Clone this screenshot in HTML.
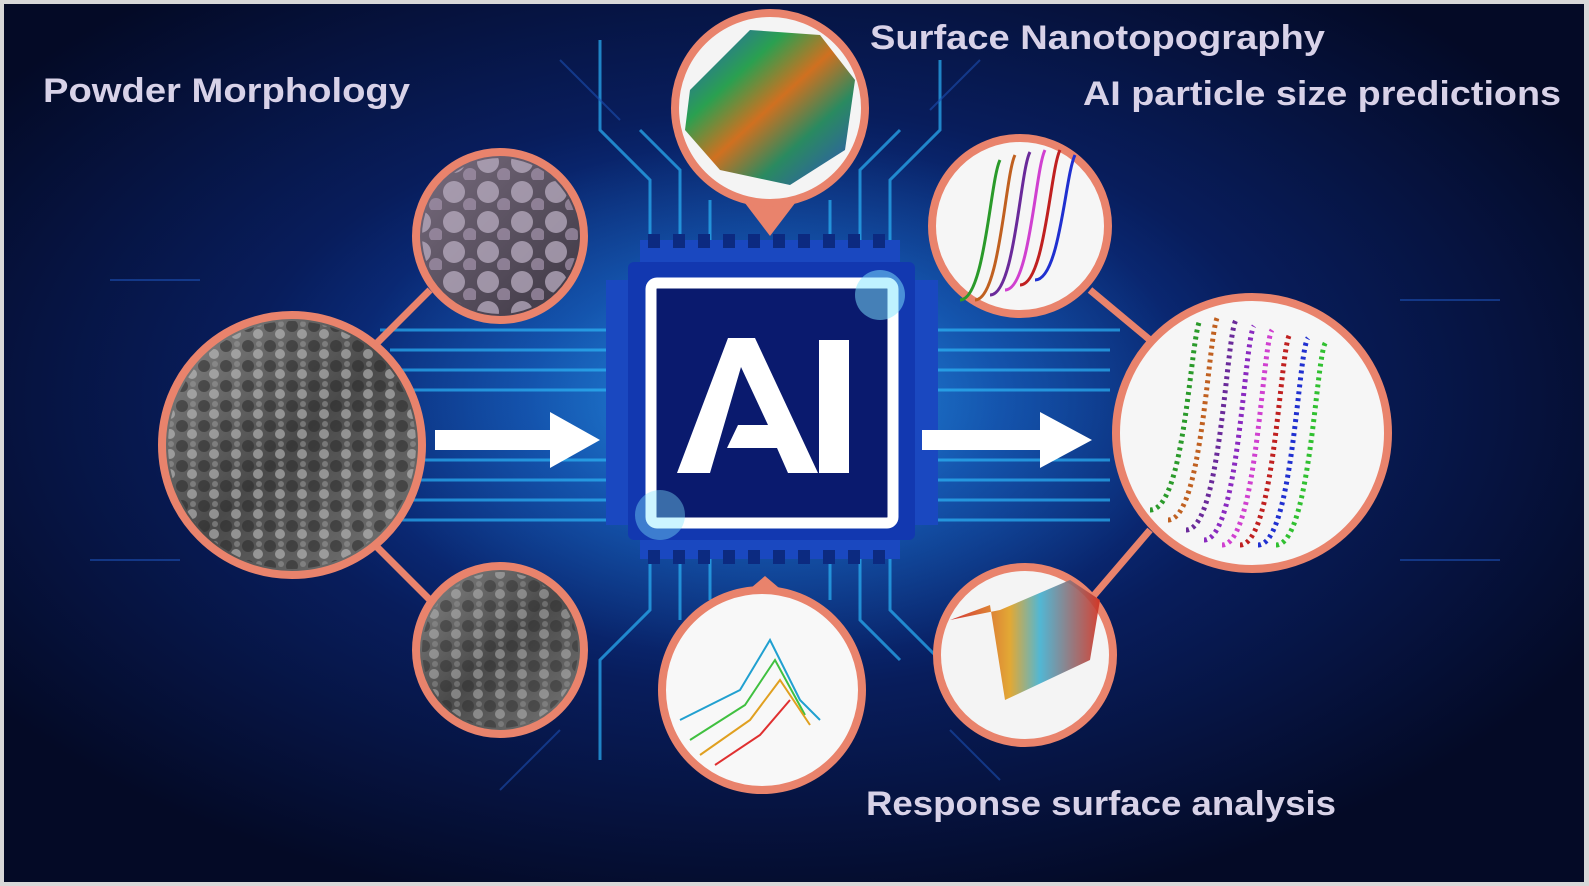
<!DOCTYPE html>
<html><head><meta charset="utf-8"><style>
html,body{margin:0;padding:0;background:#fff}
svg{display:block}
text{font-family:"Liberation Sans",sans-serif;font-weight:bold}
</style></head><body>
<svg width="1589" height="886" viewBox="0 0 1589 886" xmlns="http://www.w3.org/2000/svg">
<defs>
<radialGradient id="bg" cx="0.48" cy="0.45" r="0.6">
<stop offset="0" stop-color="#1a6fd6"/>
<stop offset="0.25" stop-color="#0d3d9e"/>
<stop offset="0.55" stop-color="#081d5c"/>
<stop offset="1" stop-color="#040a26"/>
</radialGradient>
<radialGradient id="glow" cx="0.5" cy="0.5" r="0.5">
<stop offset="0" stop-color="#3ad0ff" stop-opacity="0.7"/>
<stop offset="1" stop-color="#3ad0ff" stop-opacity="0"/>
</radialGradient>
<linearGradient id="sem" x1="0" y1="0" x2="1" y2="1">
<stop offset="0" stop-color="#8a8a8a"/><stop offset="0.5" stop-color="#4a4a4a"/><stop offset="1" stop-color="#7a7a7a"/>
</linearGradient>
<linearGradient id="sem2" x1="0" y1="0" x2="1" y2="1">
<stop offset="0" stop-color="#7a6e80"/><stop offset="1" stop-color="#3a3440"/>
</linearGradient>
<linearGradient id="topo" x1="0" y1="0" x2="1" y2="1">
<stop offset="0" stop-color="#2a58c8"/><stop offset="0.3" stop-color="#2aa050"/><stop offset="0.5" stop-color="#d07020"/><stop offset="0.7" stop-color="#2a8a60"/><stop offset="1" stop-color="#3050c0"/>
</linearGradient>
<linearGradient id="rs" x1="0" y1="0" x2="1" y2="0">
<stop offset="0" stop-color="#d02020"/><stop offset="0.4" stop-color="#e0a020"/><stop offset="0.6" stop-color="#40b0d0"/><stop offset="1" stop-color="#d03020"/>
</linearGradient>
<pattern id="dots" width="22" height="20" patternUnits="userSpaceOnUse">
<circle cx="6" cy="6" r="6" fill="#2a2a2a"/><circle cx="16" cy="14" r="5" fill="#c8c8c8"/><circle cx="17" cy="4" r="3" fill="#999"/>
</pattern>
<pattern id="balls" width="34" height="30" patternUnits="userSpaceOnUse">
<circle cx="12" cy="12" r="11" fill="#b8acc0"/><circle cx="28" cy="25" r="7" fill="#a090a8"/>
</pattern>
</defs>
<rect width="1589" height="886" fill="#d8d8d8"/>
<rect x="4" y="4" width="1580" height="878" fill="url(#bg)"/>
<g stroke="#28a8ee" stroke-width="3" fill="none" opacity="0.75">
<path d="M380 330 H620 M390 350 H620 M390 370 H620 M400 390 H620 M420 460 H620 M410 480 H620 M400 500 H620 M390 520 H620"/>
<path d="M920 330 H1120 M920 350 H1110 M920 370 H1110 M920 390 H1110 M920 460 H1110 M920 480 H1110 M920 500 H1110 M920 520 H1110"/>
<path d="M650 250 V180 L600 130 V40 M680 250 V170 L640 130 M710 250 V200 M830 250 V200 M860 250 V170 L900 130 M890 250 V180 L940 130 V60"/>
<path d="M650 545 V610 L600 660 V760 M680 545 V620 M710 545 V600 M830 545 V600 M860 545 V620 L900 660 M890 545 V610 L940 660"/>
</g>
<g stroke="#1c4fb0" stroke-width="2" fill="none" opacity="0.6">
<path d="M560 60 L620 120 M980 60 L930 110 M110 280 H200 M1400 300 H1500 M1400 560 H1500 M90 560 H180 M500 790 L560 730 M1000 780 L950 730"/>
</g>
<ellipse cx="770" cy="400" rx="420" ry="260" fill="url(#glow)" opacity="0.5"/>
<g stroke="#e9836c" stroke-width="7">
<line x1="370" y1="350" x2="430" y2="290"/>
<line x1="370" y1="540" x2="430" y2="600"/>
<line x1="1090" y1="290" x2="1150" y2="340"/>
<line x1="1090" y1="600" x2="1150" y2="530"/>
</g>
<g fill="#1a48c0">
<rect x="640" y="240" width="260" height="24"/>
<rect x="640" y="535" width="260" height="24"/>
<rect x="606" y="280" width="26" height="245"/>
<rect x="912" y="280" width="26" height="245"/>
</g>
<g fill="#0c2a80">
<rect x="648" y="234" width="12" height="14"/><rect x="673" y="234" width="12" height="14"/><rect x="698" y="234" width="12" height="14"/><rect x="723" y="234" width="12" height="14"/><rect x="748" y="234" width="12" height="14"/><rect x="773" y="234" width="12" height="14"/><rect x="798" y="234" width="12" height="14"/><rect x="823" y="234" width="12" height="14"/><rect x="848" y="234" width="12" height="14"/><rect x="873" y="234" width="12" height="14"/>
<rect x="648" y="550" width="12" height="14"/><rect x="673" y="550" width="12" height="14"/><rect x="698" y="550" width="12" height="14"/><rect x="723" y="550" width="12" height="14"/><rect x="748" y="550" width="12" height="14"/><rect x="773" y="550" width="12" height="14"/><rect x="798" y="550" width="12" height="14"/><rect x="823" y="550" width="12" height="14"/><rect x="848" y="550" width="12" height="14"/><rect x="873" y="550" width="12" height="14"/>
</g>
<rect x="628" y="262" width="287" height="278" rx="6" fill="#1238b0"/>
<rect x="651" y="283" width="242" height="240" rx="6" fill="#0a1a6e" stroke="#ffffff" stroke-width="11"/>
<circle cx="880" cy="295" r="25" fill="#7fe6ff" opacity="0.5"/>
<circle cx="660" cy="515" r="25" fill="#7fe6ff" opacity="0.4"/>
<path d="M728 338 H755 L818 473 H788 L777 448 H727 L738 425 H768 L741 367 L710 473 H677 Z" fill="#fff"/>
<rect x="819" y="340" width="30" height="133" fill="#fff"/>
<path d="M435 430 H550 V412 L600 440 L550 468 V450 H435 Z" fill="#fff"/>
<path d="M922 430 H1040 V412 L1092 440 L1040 468 V450 H922 Z" fill="#fff"/>
<path d="M735 190 L770 236 L805 190 Z" fill="#e9836c"/>
<path d="M725 610 L765 576 L805 610 Z" fill="#e9836c"/>
<g stroke="#e9836c" stroke-width="8">
<circle cx="500" cy="236" r="84" fill="url(#sem2)"/>
<circle cx="292" cy="445" r="130" fill="url(#sem)"/>
<circle cx="500" cy="650" r="84" fill="url(#sem)"/>
<circle cx="770" cy="108" r="95" fill="#f4f4f4"/>
<circle cx="762" cy="690" r="100" fill="#f8f8f8"/>
<circle cx="1020" cy="226" r="88" fill="#f6f6f6"/>
<circle cx="1252" cy="433" r="136" fill="#f6f6f6"/>
<circle cx="1025" cy="655" r="88" fill="#f4f4f4"/>
</g>
<circle cx="500" cy="236" r="78" fill="url(#balls)" opacity="0.75"/>
<circle cx="292" cy="445" r="124" fill="url(#dots)" opacity="0.55"/>
<circle cx="500" cy="650" r="78" fill="url(#dots)" opacity="0.45"/>
<path d="M690 90 L750 30 L820 35 L855 80 L845 150 L790 185 L720 170 L685 130 Z" fill="url(#topo)"/>
<g fill="none" stroke-width="3">
<path d="M960 300 C985 300 990 180 1000 160" stroke="#2a9a2a"/>
<path d="M975 300 C1000 300 1005 175 1015 155" stroke="#c06020"/>
<path d="M990 295 C1015 295 1020 170 1030 152" stroke="#6a2a9a"/>
<path d="M1005 290 C1030 290 1035 170 1045 150" stroke="#d040d0"/>
<path d="M1020 285 C1045 285 1050 170 1060 150" stroke="#c02020"/>
<path d="M1035 280 C1060 280 1065 175 1075 155" stroke="#2030d0"/>
</g>
<g fill="none" stroke-width="5" stroke-dasharray="3 4">
<path d="M1150 510 C1185 510 1190 340 1200 320" stroke="#2a9a2a"/>
<path d="M1168 520 C1203 520 1208 330 1218 316" stroke="#c06020"/>
<path d="M1186 530 C1221 530 1226 335 1236 320" stroke="#6a2a9a"/>
<path d="M1204 540 C1239 540 1244 340 1254 326" stroke="#8a2ac0"/>
<path d="M1222 545 C1257 545 1262 345 1272 330" stroke="#d040d0"/>
<path d="M1240 545 C1275 545 1280 345 1290 334" stroke="#c02020"/>
<path d="M1258 545 C1293 545 1298 350 1308 338" stroke="#2030d0"/>
<path d="M1276 545 C1311 545 1316 350 1326 342" stroke="#30c030"/>
</g>
<path d="M950 620 L990 605 L1005 700 L1090 660 L1100 600 L1070 580 L1000 610 Z" fill="url(#rs)" opacity="0.9"/>
<g fill="none" stroke-width="2">
<path d="M680 720 L740 690 L770 640 L800 700 L820 720" stroke="#20a0d0"/>
<path d="M690 740 L745 705 L775 660 L805 715" stroke="#40c040"/>
<path d="M700 755 L750 720 L780 680 L810 725" stroke="#e0a020"/>
<path d="M715 765 L760 735 L790 700" stroke="#e03030"/>
</g>
<g fill="#d8d2e8">
<text x="43" y="102" font-size="34" textLength="367" lengthAdjust="spacingAndGlyphs">Powder Morphology</text>
<text x="870" y="49" font-size="34" textLength="455" lengthAdjust="spacingAndGlyphs">Surface Nanotopography</text>
<text x="1083" y="105" font-size="34" textLength="478" lengthAdjust="spacingAndGlyphs">AI particle size predictions</text>
<text x="866" y="815" font-size="34" textLength="470" lengthAdjust="spacingAndGlyphs">Response surface analysis</text>
</g>
</svg>
</body></html>
